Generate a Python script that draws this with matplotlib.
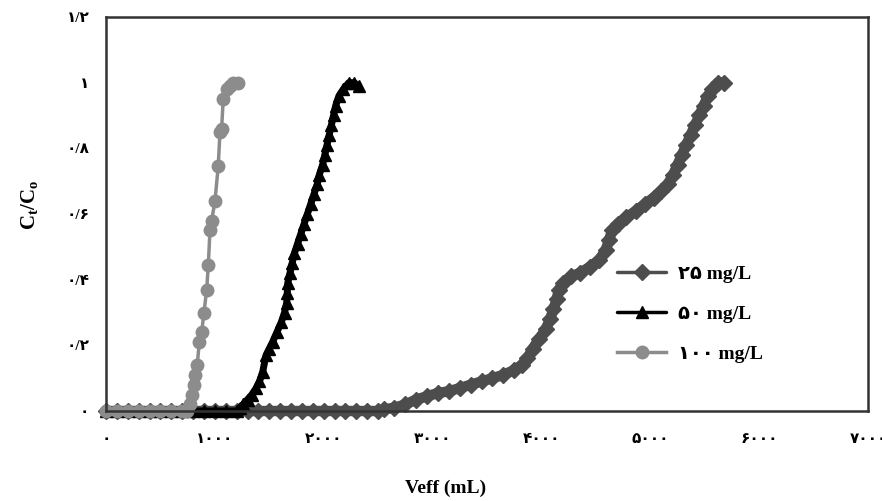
import matplotlib
matplotlib.use("Agg")
import matplotlib.pyplot as plt
from matplotlib.ticker import FuncFormatter

plt.rcParams['font.family'] = ['Liberation Serif', 'DejaVu Sans']
plt.rcParams['font.weight'] = 'bold'
plt.rcParams['mathtext.fontset'] = 'custom'
plt.rcParams['mathtext.rm'] = 'Liberation Serif:bold'

# 25 mg/L
v25 = [0, 100, 200, 300, 400, 500, 600, 700, 800, 900, 1000, 1100, 1200,
       1300, 1400, 1500, 1600, 1700, 1800, 1900, 2000, 2100, 2200, 2300, 2400, 2500,
       2550, 2650, 2750, 2850, 2950, 3050, 3150, 3250, 3350, 3450, 3550, 3650,
       3750, 3820, 3870, 3920, 3980, 4040, 4080, 4110, 4140, 4160, 4200, 4270,
       4350, 4450, 4530, 4590, 4620, 4650, 4700, 4780, 4870, 4950, 5030, 5100,
       5160, 5210, 5250, 5290, 5330, 5370, 5410, 5450, 5490, 5530, 5570, 5620, 5680]
c25 = [0] * 26 + [
       0.005, 0.01, 0.02, 0.035, 0.045, 0.055, 0.06, 0.07, 0.08, 0.09, 0.10, 0.11,
       0.125, 0.14, 0.16, 0.19, 0.22, 0.25, 0.28, 0.31, 0.34, 0.37, 0.39, 0.41,
       0.42, 0.44, 0.46, 0.49, 0.52, 0.55, 0.57, 0.59, 0.61, 0.63, 0.65, 0.67,
       0.69, 0.72, 0.75, 0.78, 0.81, 0.84, 0.87, 0.90, 0.93, 0.96, 0.98, 1.0, 1.0]

# 50 mg/L
v50 = [0, 100, 200, 300, 400, 500, 600, 700, 800, 900, 1000, 1100, 1200,
       1230, 1260, 1300, 1340, 1380, 1410, 1440, 1470, 1500, 1530, 1570, 1610,
       1640, 1660, 1665, 1670, 1690, 1710, 1730, 1760, 1790, 1820, 1850, 1880,
       1910, 1940, 1960, 1990, 2010, 2030, 2050, 2070, 2090, 2110, 2140, 2180,
       2230, 2280, 2320]
c50 = [0] * 13 + [
       0.01, 0.02, 0.035, 0.05, 0.07, 0.09, 0.12, 0.17, 0.19, 0.21, 0.24, 0.27,
       0.30, 0.33, 0.36, 0.39, 0.42, 0.45, 0.48, 0.51, 0.54, 0.57, 0.60, 0.63,
       0.66, 0.69, 0.72, 0.75, 0.78, 0.81, 0.84, 0.87, 0.90, 0.93, 0.96, 0.98,
       1.0, 1.0, 0.99]

# 100 mg/L
v100 = [0, 100, 200, 300, 400, 500, 600, 700, 740, 770, 790, 805, 820, 838,
        857, 879, 900, 925, 940, 955, 971, 1001, 1031, 1047, 1062, 1077, 1108,
        1139, 1169, 1212]
c100 = [0] * 9 + [
        0.02, 0.05, 0.08, 0.11, 0.14, 0.21, 0.24, 0.30, 0.37, 0.445, 0.55, 0.58,
        0.64, 0.745, 0.85, 0.86, 0.95, 0.98, 0.99, 1.0, 1.0]

labels = ['۲۵ mg/L', '۵۰ mg/L', '۱۰۰ mg/L']
xticks = [0, 1000, 2000, 3000, 4000, 5000, 6000, 7000]
yticks = [0, 0.2, 0.4, 0.6, 0.8, 1.0, 1.2]

fa = str.maketrans('0123456789.', '۰۱۲۳۴۵۶۷۸۹/')


def persian(v, pos=None):
    return ('%g' % v).translate(fa)


fig = plt.figure(figsize=(8.82, 5.01), dpi=100)
ax = fig.add_axes([106 / 882, 90 / 501, 762 / 882, 394 / 501])

ax.plot(v25, c25, color='#4d4d4d', lw=7.5, marker='D', ms=8, solid_joinstyle='round',
        solid_capstyle='round', clip_on=False, label=labels[0])
ax.plot(v50, c50, color='black', lw=5, marker='^', ms=9, solid_joinstyle='round',
        solid_capstyle='round', clip_on=False, label=labels[1])
ax.plot(v100, c100, color='#8c8c8c', lw=2.5, marker='o', ms=9, clip_on=False, label=labels[2])

ax.set_xlim(0, 7000)
ax.set_ylim(0, 1.2)
ax.set_xticks(xticks)
ax.set_yticks(yticks)
ax.xaxis.set_major_formatter(FuncFormatter(persian))
ax.yaxis.set_major_formatter(FuncFormatter(persian))
ax.tick_params(length=0, labelsize=11)
ax.tick_params(axis='x', pad=16)
ax.tick_params(axis='y', pad=12)

for s in ax.spines.values():
    s.set_linewidth(1.8)
    s.set_color('#333333')

ax.set_xlabel('Veff (mL)', fontsize=14, fontweight='bold')
ax.xaxis.set_label_coords(0.446, -0.175)
ax.set_ylabel(r'C$_\mathrm{t}$/C$_\mathrm{o}$', fontsize=15, fontweight='bold')
ax.yaxis.set_label_coords(-0.085, 0.523)

leg = ax.legend(loc='upper left', bbox_to_anchor=(0.671, 0.37), frameon=False,
                fontsize=14, handlelength=2.5, handletextpad=0.6,
                labelspacing=1.15, borderpad=0, borderaxespad=0)
for ln in leg.get_lines():
    ln.set_linewidth(2.5)

fig.savefig('out.png', dpi=100)
